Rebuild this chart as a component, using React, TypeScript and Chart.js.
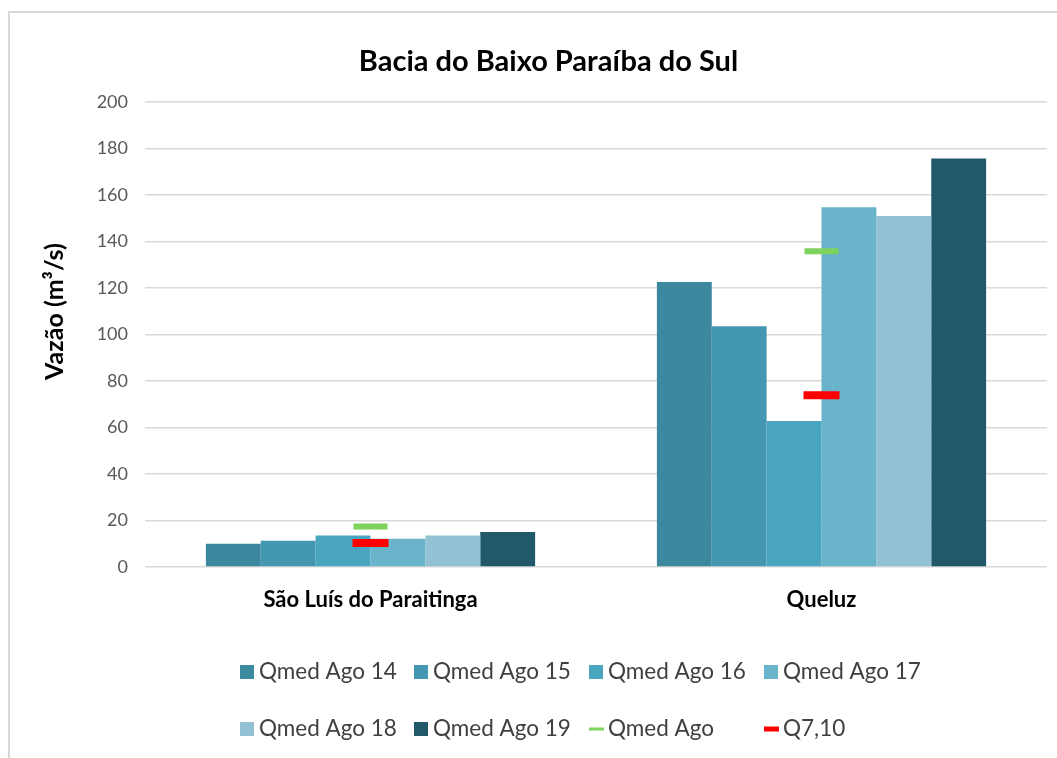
import React, { useEffect, useRef } from "react";
import { Chart, registerables } from "chart.js";

Chart.register(...registerables);

const chartTitle = "Bacia do Baixo Paraíba do Sul";
const yAxisTitle = "Vazão (m³/s)";
const categories = ["São Luís do Paraitinga", "Queluz"];

const barLabels = ["Qmed Ago 14", "Qmed Ago 15", "Qmed Ago 16", "Qmed Ago 17", "Qmed Ago 18", "Qmed Ago 19"];
const qmedAgo14 = [10.0, 122.6];
const qmedAgo15 = [11.3, 103.5];
const qmedAgo16 = [13.6, 62.8];
const qmedAgo17 = [12.2, 154.7];
const qmedAgo18 = [13.6, 151.0];
const qmedAgo19 = [15.1, 175.7];
const barColors = ["#3c889e", "#4397b0", "#4aa6c0", "#69b3cb", "#93c2d4", "#22596a"];

const qmedAgoLabel = "Qmed Ago";
const qmedAgo = [17.4, 135.8];
const q710Label = "Q7,10";
const q710 = [10.3, 73.9];

const yMin = 0;
const yMax = 200;
const yStep = 20;

const FONT = "Lato, 'Noto Sans', sans-serif";

const borderPlugin = {
  id: "outerBorder",
  beforeDraw(chart: any) {
    const ctx = chart.ctx;
    ctx.save();
    ctx.fillStyle = "#ffffff";
    ctx.fillRect(0, 0, chart.width, chart.height);
    ctx.strokeStyle = "#d9d9d9";
    ctx.lineWidth = 2;
    ctx.strokeRect(9, 12, chart.width + 10, chart.height + 10);
    ctx.restore();
  },
};

const yTitlePlugin = {
  id: "yTitle",
  afterDraw(chart: any) {
    const ctx = chart.ctx;
    ctx.save();
    ctx.translate(55, 311.5);
    ctx.rotate(-Math.PI / 2);
    ctx.font = `bold 25px ${FONT}`;
    ctx.fillStyle = "#000000";
    ctx.textAlign = "center";
    ctx.textBaseline = "middle";
    ctx.fillText(yAxisTitle, 0, 0);
    ctx.restore();
  },
};

const gridLegendPlugin = {
  id: "gridLegend",
  afterDraw(chart: any) {
    const ctx = chart.ctx;
    const datasets = chart.data.datasets;
    const colX = [240, 414, 589, 764];
    const rowY = [672, 729];
    ctx.save();
    ctx.font = `22.5px ${FONT}`;
    ctx.textBaseline = "middle";
    ctx.textAlign = "left";
    datasets.forEach((ds: any, i: number) => {
      const col = i % 4;
      const row = Math.floor(i / 4);
      const x = colX[col];
      const y = rowY[row];
      if (ds.type === "line") {
        ctx.fillStyle = ds.pointBorderColor;
        const th = ds.legendThickness || 3;
        ctx.fillRect(x, y - th / 2, 15, th);
      } else {
        ctx.fillStyle = ds.backgroundColor;
        ctx.fillRect(x, y - 7, 14, 14);
      }
      ctx.fillStyle = "#404040";
      ctx.fillText(ds.label, x + 19, y);
    });
    ctx.restore();
  },
};

export default function App() {
  const canvasRef = useRef<HTMLCanvasElement | null>(null);

  useEffect(() => {
    if (!canvasRef.current) return;
    const barSeries = [qmedAgo14, qmedAgo15, qmedAgo16, qmedAgo17, qmedAgo18, qmedAgo19];
    const barDatasets = barSeries.map((values, i) => ({
      type: "bar" as const,
      label: barLabels[i],
      data: values,
      backgroundColor: barColors[i],
      borderWidth: 0,
      categoryPercentage: 0.73,
      barPercentage: 1.0,
      order: 2,
    }));
    const markerDataset = (label: string, values: number[], color: string, radius: number, width: number, legendThickness: number) => ({
      type: "line" as const,
      label,
      data: values,
      showLine: false,
      pointStyle: "line",
      pointRadius: radius,
      pointHoverRadius: radius,
      pointBorderWidth: width,
      pointHoverBorderWidth: width,
      pointBorderColor: color,
      pointBackgroundColor: color,
      borderColor: color,
      backgroundColor: color,
      legendThickness,
      order: 1,
    });

    const chart = new Chart(canvasRef.current, {
      data: {
        labels: categories,
        datasets: [
          ...barDatasets,
          markerDataset(qmedAgoLabel, qmedAgo, "#7ed35f", 17, 6, 3),
          markerDataset(q710Label, q710, "#ff0000", 18, 8, 5),
        ] as any,
      },
      options: {
        responsive: true,
        maintainAspectRatio: false,
        animation: false,
        layout: { autoPadding: false, padding: { left: 50, right: 10, top: 0, bottom: 0 } },
        plugins: {
          legend: { display: false },
          tooltip: { enabled: false },
          title: {
            display: true,
            text: chartTitle,
            color: "#000000",
            font: { family: FONT, size: 29, weight: "bold" },
            padding: { top: 44, bottom: 23.2 },
          },
        },
        scales: {
          x: {
            type: "category",
            offset: true,
            grid: { display: false, drawTicks: false },
            border: { display: false },
            ticks: {
              color: "#000000",
              font: { family: FONT, size: 22, weight: "bold" },
              padding: 20,
              maxRotation: 0,
            },
            afterFit(scale: any) {
              scale.height = 191;
            },
          },
          y: {
            min: yMin,
            max: yMax,
            grid: { color: "#d9d9d9", lineWidth: 1.5, drawTicks: false },
            border: { display: false },
            ticks: {
              stepSize: yStep,
              color: "#595959",
              font: { family: FONT, size: 18 },
              padding: 17,
            },
            afterFit(scale: any) {
              scale.width = 95;
            },
          },
        },
      },
      plugins: [borderPlugin, yTitlePlugin, gridLegendPlugin],
    });
    return () => chart.destroy();
  }, []);

  return (
    <div style={{ position: "fixed", left: 0, top: 0, width: 1057, height: 758, background: "#fff" }}>
      <canvas ref={canvasRef} />
    </div>
  );
}
